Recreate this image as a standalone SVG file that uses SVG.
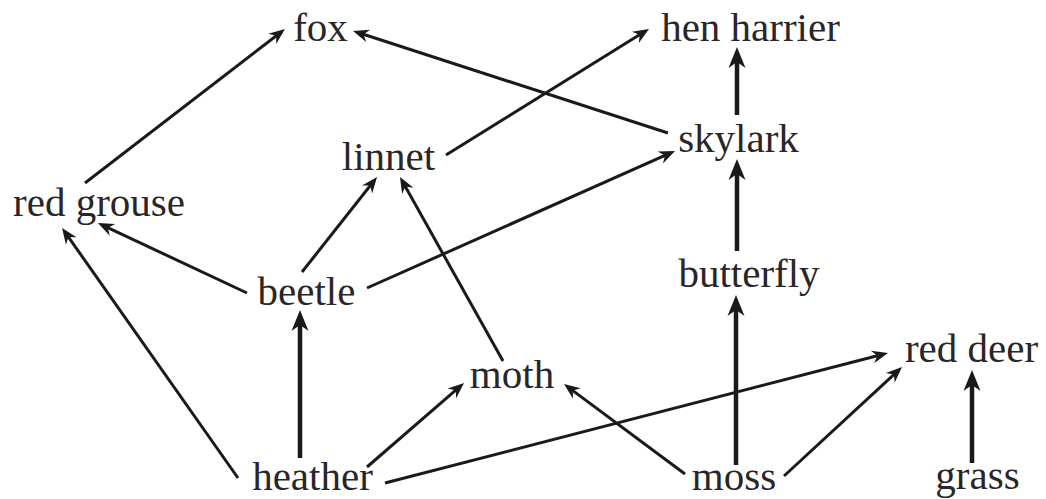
<svg xmlns="http://www.w3.org/2000/svg" width="1046" height="499" viewBox="0 0 1046 499">
<defs>
<style>
.lbl{font-family:"Liberation Serif","Times New Roman",serif;font-size:41px;fill:#2a2627;text-anchor:middle}
.e{stroke:#1a1a1a;stroke-width:3;fill:none;marker-end:url(#ah)}
.v{stroke:#1a1a1a;stroke-width:4.5;fill:none;marker-end:url(#ahv)}
</style>
<marker id="ah" markerUnits="userSpaceOnUse" viewBox="-12 -8 20 16" markerWidth="20" markerHeight="16" refX="0" refY="0" orient="auto">
<path d="M6,0 L-10,-6.5 L-5,0 L-10,6.5 Z" fill="#1a1a1a"/>
</marker>
<marker id="ahv" markerUnits="userSpaceOnUse" viewBox="-14 -10 26 20" markerWidth="26" markerHeight="20" refX="0" refY="0" orient="auto">
<path d="M11,0 L-10,-8.5 L-4,0 L-10,8.5 Z" fill="#1a1a1a"/>
</marker>
</defs>
<rect width="1046" height="499" fill="#fff"/>
<g id="connectors">
<line class="e" x1="85" y1="183" x2="280.2" y2="32.7"/>
<line class="e" x1="668" y1="133" x2="358.7" y2="32.8"/>
<line class="e" x1="446" y1="155" x2="643.9" y2="32.1"/>
<line class="v" x1="737" y1="115" x2="737" y2="58"/>
<line class="v" x1="737" y1="251" x2="737" y2="170"/>
<line class="e" x1="367" y1="288" x2="669.5" y2="153.4"/>
<line class="e" x1="247" y1="293" x2="103.4" y2="225.6"/>
<line class="e" x1="302" y1="272" x2="373.3" y2="181.7"/>
<line class="e" x1="503" y1="361" x2="402.9" y2="182.2"/>
<line class="e" x1="238" y1="478" x2="65.5" y2="232.9"/>
<line class="v" x1="300" y1="458" x2="300" y2="321"/>
<line class="e" x1="367" y1="467" x2="459.5" y2="386.9"/>
<line class="e" x1="385" y1="483" x2="882.2" y2="354.5"/>
<line class="e" x1="685" y1="474" x2="568.8" y2="387.6"/>
<line class="v" x1="736" y1="465" x2="736" y2="306"/>
<line class="e" x1="784" y1="476" x2="897.6" y2="371.1"/>
<line class="v" x1="972" y1="463" x2="972" y2="381"/>
</g>
<g id="fox"><text class="lbl" x="320.5" y="41">fox</text></g>
<g id="hen-harrier"><text class="lbl" x="750.5" y="41">hen harrier</text></g>
<g id="linnet"><text class="lbl" x="388.5" y="170">linnet</text></g>
<g id="skylark"><text class="lbl" x="738.5" y="152">skylark</text></g>
<g id="red-grouse"><text class="lbl" x="99" y="216">red grouse</text></g>
<g id="beetle"><text class="lbl" x="306.5" y="305">beetle</text></g>
<g id="butterfly"><text class="lbl" x="749" y="287">butterfly</text></g>
<g id="moth"><text class="lbl" x="512" y="388">moth</text></g>
<g id="red-deer"><text class="lbl" x="971.5" y="362">red deer</text></g>
<g id="heather"><text class="lbl" x="312.5" y="490">heather</text></g>
<g id="moss"><text class="lbl" x="734" y="490">moss</text></g>
<g id="grass"><text class="lbl" x="977.5" y="489">grass</text></g>
</svg>
